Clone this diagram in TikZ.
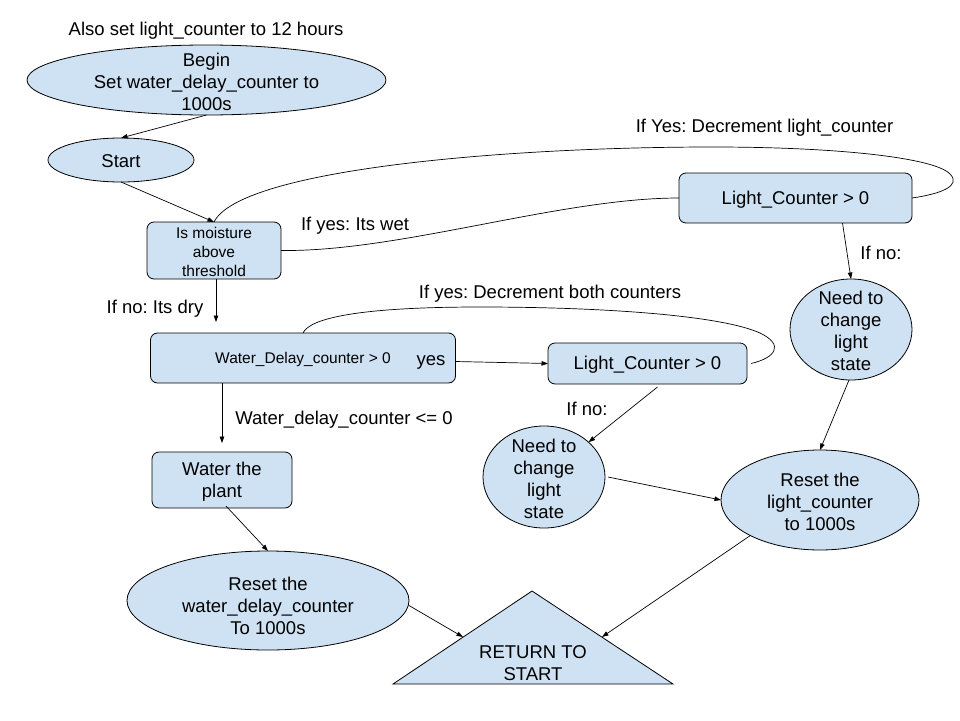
\documentclass[tikz,border=0pt]{standalone}
\usepackage{fontspec}
\setmainfont{Liberation Sans}
\usetikzlibrary{shapes.geometric,arrows.meta,calc}
\definecolor{boxfill}{RGB}{207,226,243}
\frenchspacing
\begin{document}
\begin{tikzpicture}[x=1pt,y=-1pt,
  big/.style={font=\fontsize{18.5}{22}\selectfont, align=center, inner sep=0pt},
  small/.style={font=\fontsize{15.5}{19}\selectfont, align=center, inner sep=0pt},
  txt/.style={big, yshift=-1.5pt},
  stxt/.style={small, yshift=-1pt},
  shapeline/.style={draw=black, line width=0.8pt, fill=boxfill},
  rbox/.style={shapeline, rectangle, rounded corners=7pt, inner sep=0pt, outer sep=0pt},
  ell/.style={shapeline, ellipse, inner sep=0pt, outer sep=0pt},
  conn/.style={draw=black, line width=0.7pt},
  arr/.style={conn, -{Triangle[length=6.5pt,width=4.5pt]}},
]
\fill[white] (0,0) rectangle (960,720);
\useasboundingbox (0,0) rectangle (960,720);

% nodes
\node[txt] (title) at (206,29) {Also set light\_counter to 12 hours};
\node[ell, minimum width=359pt, minimum height=70pt,
  label={[txt]center:{Begin\\Set water\_delay\_counter to\\1000s}}] (begin) at (206.5,80) {};
\node[ell, minimum width=146pt, minimum height=44pt,
  label={[txt]center:{Start}}] (start) at (121,160) {};
\node[rbox, minimum width=134pt, minimum height=57pt,
  label={[stxt]center:{Is moisture\\above\\threshold}}] (moist) at (214,250.5) {};
\node[rbox, minimum width=233pt, minimum height=50pt,
  label={[txt]center:{Light\_Counter > 0}}] (lc1) at (795.5,198) {};
\node[ell, minimum width=122pt, minimum height=101pt,
  label={[txt]center:{Need to\\change\\light\\state}}] (need1) at (851,329.5) {};
\node[ell, minimum width=198pt, minimum height=100pt,
  label={[txt]center:{Reset the\\light\_counter\\to 1000s}}] (resetl) at (820,500) {};
\node[rbox, minimum width=305pt, minimum height=50pt,
  label={[stxt]center:{Water\_Delay\_counter > 0}}] (water) at (303,358) {};
\node[txt] (wyes) at (431,361) {yes};
\node[rbox, minimum width=199pt, minimum height=41pt,
  label={[txt]center:{Light\_Counter > 0}}] (lc2) at (647.5,363.5) {};
\node[ell, minimum width=122pt, minimum height=102pt,
  label={[txt]center:{Need to\\change\\light\\state}}] (need2) at (544,477) {};
\node[rbox, minimum width=140pt, minimum height=56pt,
  label={[txt]center:{Water the\\plant}}] (plant) at (222,480) {};
\node[ell, minimum width=282pt, minimum height=99pt,
  label={[big,yshift=-5pt]center:{Reset the\\water\_delay\_counter\\To 1000s}}] (resetw) at (268,600.5) {};

% triangle
\coordinate (tA) at (532,591);
\coordinate (tL) at (393,684);
\coordinate (tR) at (673,684);
\filldraw[shapeline] (tL) -- (tA) -- (tR) -- cycle;
\node[txt] (ret) at (533,662) {RETURN TO\\START};
\coordinate (tinL) at (463,637);
\coordinate (tinR) at (602,637);

% labels
\node[txt] (lblyes1) at (764.5,126) {If Yes: Decrement light\_counter};
\node[txt] (lblwet) at (355,224) {If yes: Its wet};
\node[txt] (lbldry) at (155,307) {If no: Its dry};
\node[txt] (lblboth) at (550,292) {If yes: Decrement both counters};
\node[txt] (lblwdc) at (344,418) {Water\_delay\_counter <= 0};
\node[txt] (lblno1) at (881,251) {If no:};
\node[txt] (lblno2) at (587,407) {If no:};

% connectors
\draw[arr] (begin.south) -- (start.north);
\draw[arr] (start.south) -- (moist.north);
\draw[arr, shorten >=11pt] ([xshift=2pt]moist.south) -- ([xshift=2pt]moist.south |- water.north);
\draw[arr, shorten >=9pt] (water.south -| plant.north) -- (plant.north);
\draw[arr] ([xshift=4pt,yshift=2pt]plant.south) -- (resetw.north);
\draw[arr] ([yshift=-5pt]resetw.east) -- (tinL);
\draw[arr] ([yshift=-3.5pt]water.east) -- (lc2.west);
\draw[arr] ([xshift=10pt,yshift=-3pt]lc2.south) -- (need2.38);
\draw[arr] ([xshift=3pt]need2.east) -- (resetl.west);
\draw[arr] ([xshift=47pt]lc1.south) -- (need1.north);
\draw[arr] ([xshift=-2pt]need1.south) -- (resetl.north);
\draw[arr] (resetl.207) -- (tinR);

% curves
\draw[conn] (lc1.east) .. controls (940,194) and (962,186) .. (950,174)
  .. controls (935,158) and (840,147) .. (713,147)
  .. controls (500,147) and (240,170) .. (moist.north);
\draw[conn] (moist.east) .. controls (400,252) and (560,198) .. (lc1.west);
\draw[conn] ([xshift=4pt]lc2.east) .. controls (775,358) and (785,345) .. (760,333)
  .. controls (720,315) and (600,307) .. (480,307)
  .. controls (360,307) and (310,318) .. (water.north);
\end{tikzpicture}
\end{document}
